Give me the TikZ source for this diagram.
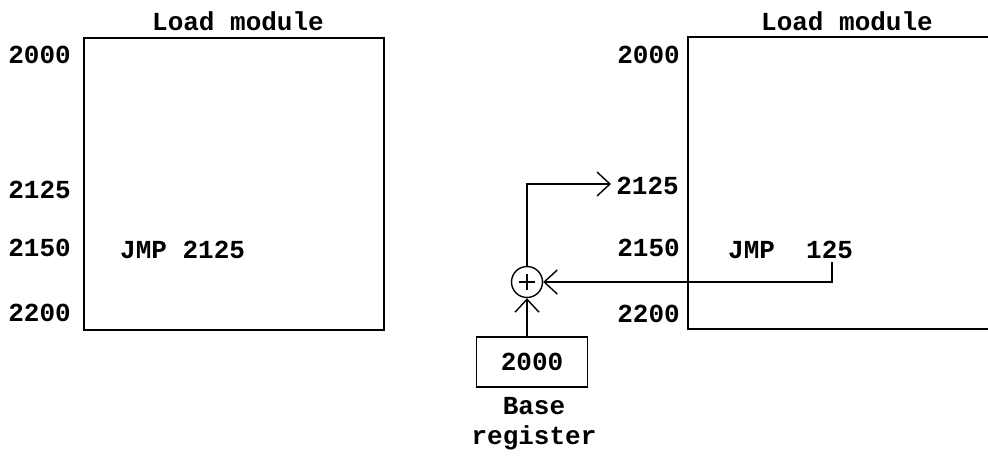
\documentclass[tikz,border=0pt]{standalone}
\usepackage{fontspec}
\setmonofont{Liberation Mono}
\usetikzlibrary{arrows.meta}
\tikzset{
  lbl/.style={font=\fontsize{26}{28}\selectfont\ttfamily\bfseries, inner sep=0pt},
  addr/.style={lbl, anchor=east},
  membox/.style={draw, line width=1.6pt, inner sep=0pt, anchor=north west},
  conn/.style={line width=1.4pt},
  barb/.style={-{Straight Barb[length=13pt,width=24pt,line width=1.4pt]}}
}
\begin{document}
\begin{tikzpicture}[x=1pt,y=-1pt]
\useasboundingbox (0,0) rectangle (988,457);
\clip (0,0) rectangle (988,457);
\fill[white] (0,0) rectangle (988,457);
% left module
\node[membox, minimum width=300pt, minimum height=292pt] (lbox) at (83,37) {};
\node[lbl] (ltitle) at (238,21) {Load module};
\node[addr] (l2000) at (71,55) {2000};
\node[addr] (l2125) at (71,190) {2125};
\node[addr] (l2150) at (71,248) {2150};
\node[addr] (l2200) at (71,313) {2200};
\node[lbl, anchor=west] (ljmp) at (120,250) {JMP 2125};
% right module
\node[membox, minimum width=340pt, minimum height=292pt] (rbox) at (687,36) {};
\node[lbl] (rtitle) at (847,21) {Load module};
\node[addr] (r2000) at (680,55) {2000};
\node[addr] (r2125) at (679,186) {2125};
\node[addr] (r2150) at (680,248) {2150};
\node[addr] (r2200) at (680,314) {2200};
\node[lbl, anchor=west] (rjmp) at (728,250) {JMP\ \ 125};
% adder and base register
\node[draw, circle, line width=1.4pt, minimum size=31pt, inner sep=0pt] (plus) at (527,282) {};
\draw[line width=1.8pt] ([xshift=-8pt]plus.center) -- ([xshift=8pt]plus.center)
                        ([yshift=-8pt]plus.center) -- ([yshift=8pt]plus.center);
\node[draw, line width=1.6pt, minimum width=111pt, minimum height=50pt, inner sep=0pt, font=\fontsize{26}{28}\selectfont\ttfamily\bfseries] (base) at (532,362) {2000};
\node[lbl, align=center, anchor=north] (basetxt) at (534,397) {Base\\[2pt]register};
\coordinate (tip2125) at (611,184);
\coordinate (c125) at (832,262);
% connectors
\draw[conn, barb] (plus.north) |- (tip2125);
\draw[conn, barb] (c125) |- (plus.east);
\draw[conn, barb] (plus.south |- base.north) -- (plus.south);
\end{tikzpicture}
\end{document}
